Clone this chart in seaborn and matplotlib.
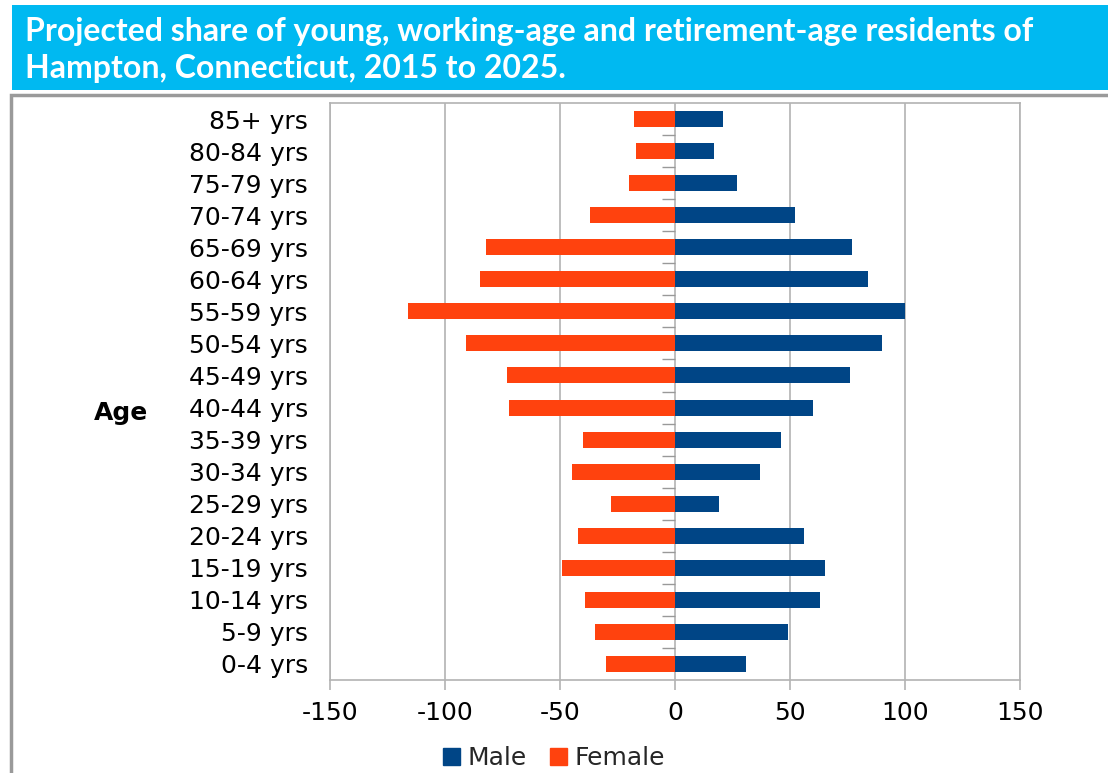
import matplotlib
import matplotlib.pyplot as plt
import pandas as pd
import seaborn as sns
from matplotlib.patches import Rectangle

matplotlib.use("Agg")

# Data (top row first)
age_groups = [
    "85+ yrs", "80-84 yrs", "75-79 yrs", "70-74 yrs", "65-69 yrs", "60-64 yrs",
    "55-59 yrs", "50-54 yrs", "45-49 yrs", "40-44 yrs", "35-39 yrs", "30-34 yrs",
    "25-29 yrs", "20-24 yrs", "15-19 yrs", "10-14 yrs", "5-9 yrs", "0-4 yrs",
]
male = [21, 17, 27, 52, 77, 84, 100, 90, 76, 60, 46, 37, 19, 56, 65, 63, 49, 31]
female = [-18, -17, -20, -37, -82, -85, -116, -91, -73, -72, -40, -45, -28, -42, -49, -39, -35, -30]
x_ticks = [-150, -100, -50, 0, 50, 100, 150]

title = ("Projected share of young, working-age and retirement-age residents of\n"
         "Hampton, Connecticut, 2015 to 2025.")

MALE_COLOR = "#004586"
FEMALE_COLOR = "#ff420e"
GRID = "#b3b3b3"
FS = 18

df = pd.DataFrame({
    "age": age_groups * 2,
    "value": male + female,
    "sex": ["Male"] * len(male) + ["Female"] * len(female),
})

sns.set_theme(style="white")
plt.rcParams["font.family"] = ["DejaVu Sans"]

W, H = 1108, 773
fig = plt.figure(figsize=(W / 100, H / 100), dpi=100)
ax = fig.add_axes([330 / W, 1 - 680 / H, 690 / W, 577 / H])

sns.barplot(
    data=df, y="age", x="value", hue="sex", order=age_groups,
    palette={"Male": MALE_COLOR, "Female": FEMALE_COLOR}, saturation=1,
    dodge=False, width=0.5, orient="h", ax=ax, legend=False,
    edgecolor="none", linewidth=0, zorder=3,
)

ax.set_xlim(-150, 150)
ax.set_ylim(len(age_groups) - 0.5, -0.5)
ax.set_xticks(x_ticks)
ax.set_xticklabels([str(t) for t in x_ticks])
ax.xaxis.grid(True, color=GRID, linewidth=1.2, zorder=0)
ax.yaxis.grid(False)
ax.set_axisbelow(True)
for sp in ax.spines.values():
    sp.set_color(GRID)
    sp.set_linewidth(1.2)

# small separators on the zero axis between age groups
ax.hlines([i + 0.5 for i in range(len(age_groups) - 1)], -5.6, 0,
          color="#999999", linewidth=1, zorder=2)

ax.tick_params(axis="x", direction="out", length=7, width=1.2, color=GRID,
               pad=8, labelsize=FS, labelcolor="black", bottom=True)
ax.tick_params(axis="y", length=0, pad=16, labelsize=FS, labelcolor="black")
ax.set_xlabel("")
ax.set_ylabel("")

fig.text(121 / W, 1 - 413 / H, "Age", ha="center", va="center",
         fontsize=FS, fontweight="bold", color="black")

# legend
handles = [Rectangle((0, 0), 1, 1, color=MALE_COLOR),
           Rectangle((0, 0), 1, 1, color=FEMALE_COLOR)]
fig.legend(handles, ["Male", "Female"], loc="center", ncol=2,
           bbox_to_anchor=(0.5, 1 - 758 / H), frameon=False, fontsize=FS,
           handlelength=0.7, handleheight=0.7, handletextpad=0.3,
           columnspacing=0.9)

# title banner and outer frame
fig.add_artist(Rectangle((12 / W, 1 - 90 / H), 1, 85 / H, transform=fig.transFigure,
                         facecolor="#00b9f1", edgecolor="none", zorder=0))
fig.add_artist(Rectangle((11 / W, -0.1), 1.2, 1.1 - 95 / H, transform=fig.transFigure,
                         facecolor="none", edgecolor="#9a9a9a", linewidth=2.5, zorder=1))
fig.text(25 / W, 1 - 50 / H, title, ha="left", va="center", color="white",
         fontsize=23, fontweight="bold", family=["Lato", "DejaVu Sans"],
         linespacing=1.3)

fig.savefig("out.png", dpi=100)
